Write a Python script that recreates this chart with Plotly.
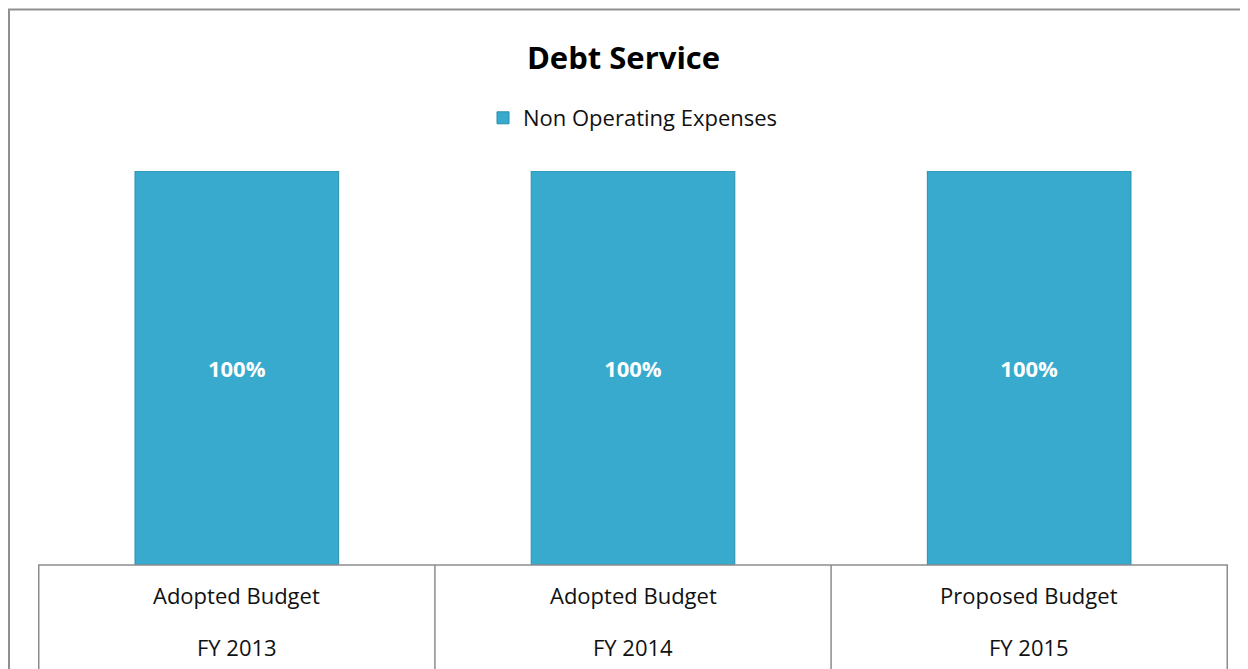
import plotly.graph_objects as go

# Chart data
categories = ["Adopted Budget<br>FY 2013", "Adopted Budget<br>FY 2014", "Proposed Budget<br>FY 2015"]
budget_type = ["Adopted Budget", "Adopted Budget", "Proposed Budget"]
fiscal_year = ["FY 2013", "FY 2014", "FY 2015"]
non_operating = [100, 100, 100]
label_text = ["100%", "100%", "100%"]

FONT = "Open Sans"
W, H = 1240, 661          # page has an 8px body margin
L, R, T, B = 30, 20, 163, 104
PLOT_W = W - L - R
PLOT_H = H - T - B

fig = go.Figure()

fig.add_trace(go.Bar(
    x=categories,
    y=non_operating,
    name="Non Operating Expenses",
    width=0.514,
    marker=dict(color="#37aacd", line=dict(color="#2b8eac", width=1)),
    text=label_text,
    textposition="inside",
    insidetextanchor="middle",
    textfont=dict(family=FONT, size=22, color="white", weight="bold"),
    hoverinfo="skip",
))

# Category table under the bars
n = len(categories)
for i in range(n + 1):
    fig.add_shape(type="line", xref="x", yref="paper",
                  x0=i - 0.5, x1=i - 0.5, y0=0, y1=-0.3,
                  line=dict(color="#8c8c8c", width=1.5))
fig.add_shape(type="line", xref="paper", yref="paper",
              x0=0, x1=1, y0=0, y1=0,
              line=dict(color="#8c8c8c", width=1.5))

for i in range(n):
    fig.add_annotation(x=categories[i], xref="x", y=-30 / PLOT_H, yref="paper",
                       text=budget_type[i], showarrow=False, yanchor="middle",
                       font=dict(family=FONT, size=22, color="#111111"))
    fig.add_annotation(x=categories[i], xref="x", y=-82 / PLOT_H, yref="paper",
                       text=fiscal_year[i], showarrow=False, yanchor="middle",
                       font=dict(family=FONT, size=22, color="#111111"))

# Outer chart border
fig.add_shape(type="rect", xref="paper", yref="paper",
              x0=(1 - L) / PLOT_W, x1=1.1, y0=(PLOT_H + T - 1.5) / PLOT_H, y1=-0.5,
              line=dict(color="#8f8f8f", width=2))

fig.update_layout(
    width=W,
    height=H,
    margin=dict(l=L, r=R, t=T, b=B),
    plot_bgcolor="white",
    paper_bgcolor="white",
    title=dict(text="<b>Debt Service</b>", x=615.5 / W, xref="container",
               xanchor="center", y=1 - 50 / H, yanchor="middle",
               font=dict(family=FONT, size=31, color="black")),
    showlegend=True,
    legend=dict(orientation="h", x=0.5, xanchor="center",
                y=1 + 53 / PLOT_H, yanchor="middle",
                font=dict(family=FONT, size=22, color="#111111"),
                itemclick=False),
    xaxis=dict(showticklabels=False, showline=False, showgrid=False,
               zeroline=False, fixedrange=True),
    yaxis=dict(range=[0, 100], visible=False, fixedrange=True),
)

fig.write_html("out.html")
